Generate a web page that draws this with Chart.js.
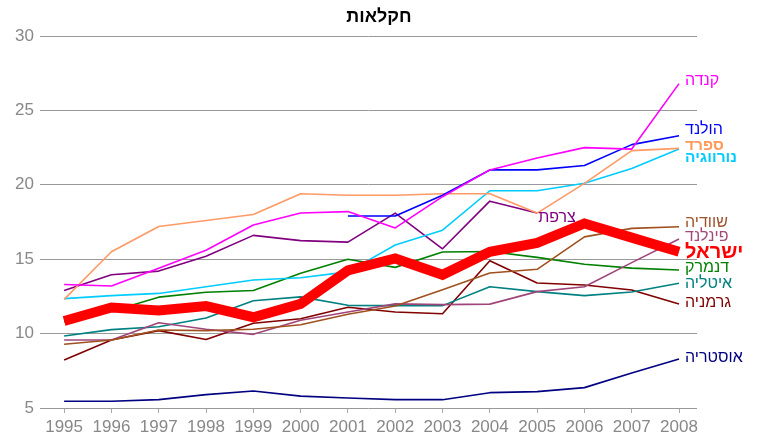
<!DOCTYPE html>
<html>
<head>
<meta charset="utf-8">
<script src="https://cdn.jsdelivr.net/npm/chart.js@4.4.1/dist/chart.umd.min.js"></script>
<style>
html,body{margin:0;padding:0;background:#fff;}
#wrap{width:758px;height:437px;position:relative;}
</style>
</head>
<body>
<div id="wrap"><canvas id="c" width="758" height="437"></canvas></div>
<script>
const years = [1995,1996,1997,1998,1999,2000,2001,2002,2003,2004,2005,2006,2007,2008];
const yTicks = [5,10,15,20,25,30];
const title = "חקלאות";

const israel      = [10.85,11.75,11.55,11.85,11.1,12.0,14.25,15.05,13.95,15.5,16.1,17.4,16.45,15.5];
const canada      = [13.3,13.2,14.4,15.6,17.3,18.1,18.2,17.1,19.2,21.0,21.8,22.5,22.4,26.8];
const netherlands = [null,null,null,null,null,null,17.9,17.9,19.3,21.0,21.0,21.3,22.7,23.3];
const spain       = [12.3,15.5,17.2,17.6,18.0,19.4,19.3,19.3,19.4,19.4,18.1,20.1,22.3,22.45];
const norway      = [12.35,12.55,12.7,13.15,13.6,13.75,14.15,15.95,16.95,19.6,19.6,20.1,21.1,22.4];
const france      = [12.9,13.95,14.2,15.2,16.6,16.25,16.15,18.1,15.7,18.9,18.1,null,null,null];
const sweden      = [9.28,9.57,10.24,10.2,10.29,10.6,11.3,11.85,12.95,14.07,14.32,16.5,17.07,17.18];
const finland     = [9.57,9.57,10.73,10.29,9.95,10.9,11.45,12.0,11.95,11.98,12.82,13.15,14.77,16.36];
const denmark     = [10.8,11.5,12.45,12.78,12.9,14.05,15.0,14.45,15.48,15.52,15.12,14.66,14.4,14.27];
const italy       = [9.84,10.27,10.46,11.05,12.21,12.47,11.9,11.88,11.88,13.15,12.82,12.55,12.8,13.38];
const germany     = [8.23,9.57,10.2,9.6,10.7,11.0,11.77,11.45,11.33,14.9,13.4,13.27,12.93,11.99];
const austria     = [5.45,5.45,5.56,5.9,6.14,5.8,5.67,5.56,5.56,6.03,6.1,6.37,7.35,8.3];

const names = ["ישראל","קנדה","הולנד","ספרד","נורווגיה","צרפת","שוודיה","פינלנד","דנמרק","איטליה","גרמניה","אוסטריה"];
const series = [israel,canada,netherlands,spain,norway,france,sweden,finland,denmark,italy,germany,austria];
const colors = ["#ff0000","#ff00ff","#0000ff","#ff9966","#00ccff","#800080","#a0501e","#a0457a","#008000","#008080","#800000","#000080"];
const labelColors = ["#ff0000","#ff00ff","#0000ff","#ff9955","#00ccff","#800080","#a0522d","#a04a7a","#008000","#008080","#800000","#000080"];
const widths = [10,1.6,1.6,1.6,1.6,1.6,1.6,1.6,1.6,1.6,1.6,1.6];
// label styling (pixel nudges relative to the line's last point)
const labelNudgeY = [1,-3,-6,-3,9,5,-4,-2,-2,0,-1,-1];
const labelNudgeX = [6,6,6,6,6,1,6,6,6,6,6,6];
const labelFont = ["bold 20px","16px","16px","bold 15.5px","bold 15.5px","16px","16px","16px","16px","16px","16px","16px"];

const FONT = "'Liberation Sans', Arial, 'DejaVu Sans', sans-serif";

const datasets = series.map((s,i)=>({
  label: names[i],
  data: years.map((y,j)=>({x:y, y:s[j]})),
  borderColor: colors[i],
  backgroundColor: colors[i],
  borderWidth: widths[i],
  pointRadius: 0,
  tension: 0,
  fill: false,
  spanGaps: false,
  borderJoinStyle: i===0 ? 'miter' : 'round',
  borderCapStyle: 'butt'
}));

const endLabels = {
  id:'endLabels',
  afterDatasetsDraw(chart){
    const ctx = chart.ctx;
    const xs = chart.scales.x, ys = chart.scales.y;
    ctx.save();
    ctx.textBaseline = 'middle';
    ctx.textAlign = 'left';
    series.forEach((s,i)=>{
      let last = s.length-1;
      while(last>=0 && s[last]===null) last--;
      const px = xs.getPixelForValue(years[last]);
      const py = ys.getPixelForValue(s[last]);
      ctx.font = labelFont[i] + " " + FONT;
      ctx.fillStyle = labelColors[i];
      ctx.fillText(names[i], px + labelNudgeX[i], py + labelNudgeY[i]);
    });
    ctx.restore();
  }
};

const titlePlugin = {
  id:'titlePlugin',
  afterDraw(chart){
    const ctx = chart.ctx;
    ctx.save();
    ctx.font = "bold 18px " + FONT;
    ctx.fillStyle = "#000";
    ctx.textAlign = 'center';
    ctx.textBaseline = 'middle';
    ctx.fillText(title, chart.width/2, 17);
    ctx.restore();
  }
};

new Chart(document.getElementById('c'), {
  type:'line',
  data:{datasets},
  options:{
    responsive:false,
    animation:false,
    events:[],
    layout:{padding:{top:36,right:61,left:0,bottom:0}},
    plugins:{legend:{display:false},tooltip:{enabled:false},title:{display:false}},
    scales:{
      x:{
        type:'linear',
        min:1994.49, max:2008.38,
        afterBuildTicks(scale){ scale.ticks = years.map(v=>({value:v})); },
        afterFit(scale){ scale.height = 29; },
        grid:{drawOnChartArea:false, drawTicks:true, tickLength:5, color:'#aaa'},
        border:{display:false},
        ticks:{color:'#888', font:{family:FONT,size:17}, padding:4, maxRotation:0, autoSkip:false,
               callback:(v)=>String(v)}
      },
      y:{
        min:5, max:30,
        afterBuildTicks(scale){ scale.ticks = yTicks.map(v=>({value:v})); },
        afterFit(scale){ scale.width = 40; },
        grid:{color:'#999', lineWidth:1, drawTicks:false},
        border:{display:false},
        ticks:{color:'#888', font:{family:FONT,size:17}, padding:6}
      }
    }
  },
  plugins:[endLabels,titlePlugin]
});
</script>
</body>
</html>
